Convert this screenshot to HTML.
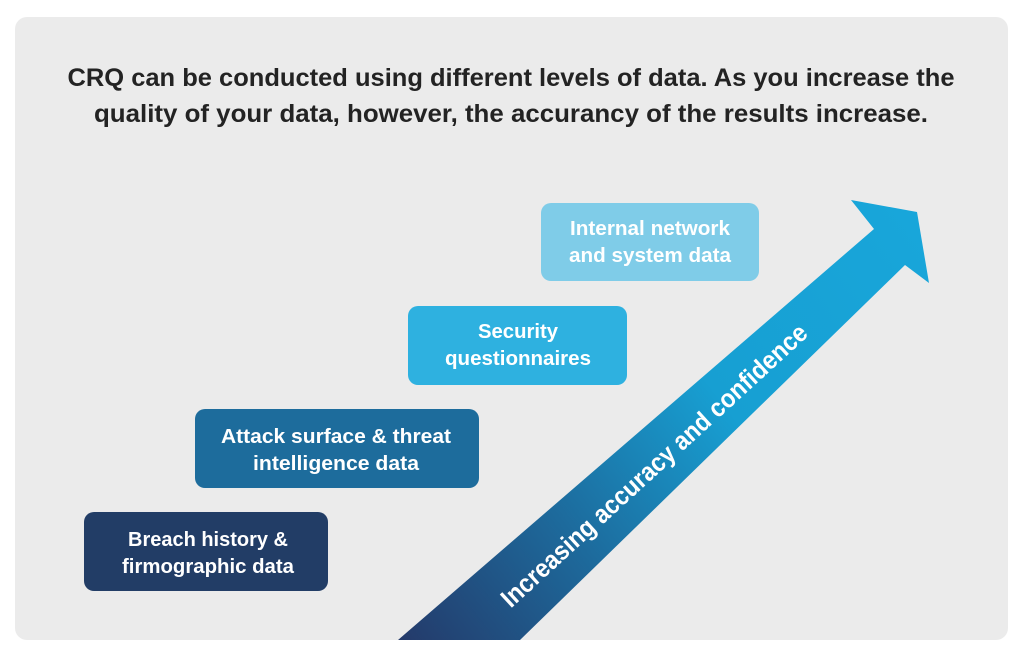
<!DOCTYPE html>
<html><head><meta charset="utf-8"><style>
html,body{margin:0;padding:0;background:#fff;}
svg{display:block;}
text{font-family:"Liberation Sans Narrow","Liberation Sans",sans-serif;font-weight:bold;}
</style></head><body>
<svg width="1024" height="654" viewBox="0 0 1024 654" xmlns="http://www.w3.org/2000/svg">
<defs>
<linearGradient id="g" x1="398" y1="640" x2="929" y2="230" gradientUnits="userSpaceOnUse">
<stop offset="0" stop-color="#243a6a"/>
<stop offset="0.3" stop-color="#1d6a9c"/>
<stop offset="0.6" stop-color="#179fd2"/>
<stop offset="1" stop-color="#18a6da"/>
</linearGradient>
</defs>
<rect x="15" y="17" width="993" height="623" rx="12" fill="#ebebeb"/>
<text x="511" y="86" font-size="25" fill="#232323" text-anchor="middle" textLength="887" lengthAdjust="spacingAndGlyphs">CRQ can be conducted using different levels of data. As you increase the</text>
<text x="511" y="122" font-size="25" fill="#232323" text-anchor="middle" textLength="834" lengthAdjust="spacingAndGlyphs">quality of your data, however, the accurancy of the results increase.</text>

<polygon points="398,640 874,229 851,200 917,212 929,283 905,265 520,640" fill="url(#g)"/>
<text transform="translate(660,472) rotate(-42.5)" font-size="26" fill="#fff" text-anchor="middle" textLength="405" lengthAdjust="spacingAndGlyphs" font-weight="normal">Increasing accuracy and confidence</text>

<rect x="541" y="203" width="218" height="78" rx="10" fill="#7fcce8"/>
<text x="650" y="235" font-size="20" fill="#fff" text-anchor="middle" textLength="160" lengthAdjust="spacingAndGlyphs">Internal network</text>
<text x="650" y="262" font-size="20" fill="#fff" text-anchor="middle" textLength="162" lengthAdjust="spacingAndGlyphs">and system data</text>

<rect x="408" y="306" width="219" height="79" rx="10" fill="#2eb1e0"/>
<text x="518" y="338" font-size="20" fill="#fff" text-anchor="middle" textLength="80" lengthAdjust="spacingAndGlyphs">Security</text>
<text x="518" y="365" font-size="20" fill="#fff" text-anchor="middle" textLength="146" lengthAdjust="spacingAndGlyphs">questionnaires</text>

<rect x="195" y="409" width="284" height="79" rx="10" fill="#1d6c9c"/>
<text x="336" y="443" font-size="20" fill="#fff" text-anchor="middle" textLength="230" lengthAdjust="spacingAndGlyphs">Attack surface &amp; threat</text>
<text x="336" y="470" font-size="20" fill="#fff" text-anchor="middle" textLength="166" lengthAdjust="spacingAndGlyphs">intelligence data</text>

<rect x="84" y="512" width="244" height="79" rx="10" fill="#223d66"/>
<text x="208" y="546" font-size="20" fill="#fff" text-anchor="middle" textLength="160" lengthAdjust="spacingAndGlyphs">Breach history &amp;</text>
<text x="208" y="573" font-size="20" fill="#fff" text-anchor="middle" textLength="172" lengthAdjust="spacingAndGlyphs">firmographic data</text>
</svg>
</body></html>
